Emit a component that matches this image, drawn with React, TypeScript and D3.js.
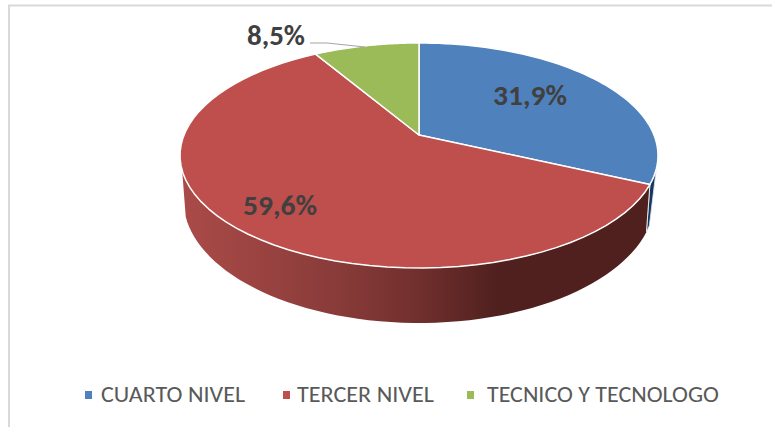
import * as d3 from 'd3';

const categories = ['CUARTO NIVEL', 'TERCER NIVEL', 'TECNICO Y TECNOLOGO'];
const values = [31.9, 59.6, 8.5];
const labels = ['31,9%', '59,6%', '8,5%'];
const topColors = ['#4f81bd', '#be4f4c', '#9bbb59'];

const width = 772;
const height = 427;
const font = 'Carlito, Lato, "Noto Sans", sans-serif';

// la tarta se ve en perspectiva: el centro queda por encima del centro de la elipse
const apex = { x: 419, y: 135 };
const k = 0.182;
const A = 235;
const B = 108.8;

// borde inferior de la pared
const drop = 43;
const sx = 0.985;
const sy = 1.09;

const deg = (d: number) => (d * Math.PI) / 180;

const project = (angle: number) => {
  const u = Math.sin(angle);
  const v = -Math.cos(angle);
  const w = 1 - k * v;
  return [(A * u) / w, (B * v) / w] as [number, number];
};

const top = (a: number) => {
  const [x, y] = project(a);
  return [apex.x + x, apex.y + y] as [number, number];
};
const bottom = (a: number) => {
  const [x, y] = project(a);
  return [apex.x + x * sx, apex.y + drop + y * sy] as [number, number];
};

const steps = (a0: number, a1: number) => d3.range(0, 61).map(i => a0 + ((a1 - a0) * i) / 60);

const arcs = d3.pie<number>().sort(null)(values);
const line = d3.line();

const legendX = [85, 283, 467];
const legendTextX = [101, 297, 487];
const legendWidths = [144, 137, 232];

export default function App() {
  const blueEnd = arcs[0].endAngle;
  const wallEnd = deg(252);
  const wall = [...steps(blueEnd, wallEnd).map(top), ...steps(blueEnd, wallEnd).map(bottom).reverse()];
  const blueWall = [...steps(deg(107), blueEnd).map(top), bottom(blueEnd), bottom(deg(112))];

  return (
    <svg width={width} height={height} style={{ position: 'absolute', left: 0, top: 0 }}>
      <defs>
        <linearGradient id="wallRed" gradientUnits="userSpaceOnUse" x1={180} x2={650} y1={0} y2={0}>
          <stop offset="0" stopColor="#ab4b48" />
          <stop offset="0.34" stopColor="#883b39" />
          <stop offset="0.51" stopColor="#702f2d" />
          <stop offset="0.68" stopColor="#4f201e" />
          <stop offset="1" stopColor="#4f201e" />
        </linearGradient>
      </defs>
      <rect width={width} height={height} fill="#fff" />
      <path d="M9,427V5.5H772" fill="none" stroke="#d9d9d9" strokeWidth={2} />

      <path d={line(blueWall) + 'Z'} fill="#17375e" stroke="#dfe6ef" strokeWidth={0.8} />
      <path d={line(wall) + 'Z'} fill="url(#wallRed)" />
      <path d={line([top(blueEnd), bottom(blueEnd)])!} fill="none" stroke="#e8e8e8" strokeWidth={1} />

      {arcs.map((a, i) => {
        const pts = [[apex.x, apex.y] as [number, number], ...steps(a.startAngle, a.endAngle).map(top)];
        return <path key={categories[i]} d={line(pts) + 'Z'} fill={topColors[i]} stroke="#fff" strokeWidth={1.5} strokeLinejoin="round" />;
      })}

      <polyline points="310,43 327,43 365,47" fill="none" stroke="#a6a6a6" strokeWidth={1.2} />

      <g fontFamily={font} fontWeight={700} fontSize={29} fill="#404040">
        <text x={493} y={105} textLength={74} lengthAdjust="spacingAndGlyphs">{labels[0]}</text>
        <text x={243} y={215} textLength={74} lengthAdjust="spacingAndGlyphs">{labels[1]}</text>
        <text x={247} y={45} textLength={58} lengthAdjust="spacingAndGlyphs">{labels[2]}</text>
      </g>

      <g fontFamily={font} fontSize={23} fill="#595959">
        {categories.map((c, i) => (
          <g key={c}>
            <rect x={legendX[i]} y={391} width={7} height={8} fill={topColors[i]} />
            <text x={legendTextX[i]} y={402} textLength={legendWidths[i]} lengthAdjust="spacingAndGlyphs">{c}</text>
          </g>
        ))}
      </g>
    </svg>
  );
}
